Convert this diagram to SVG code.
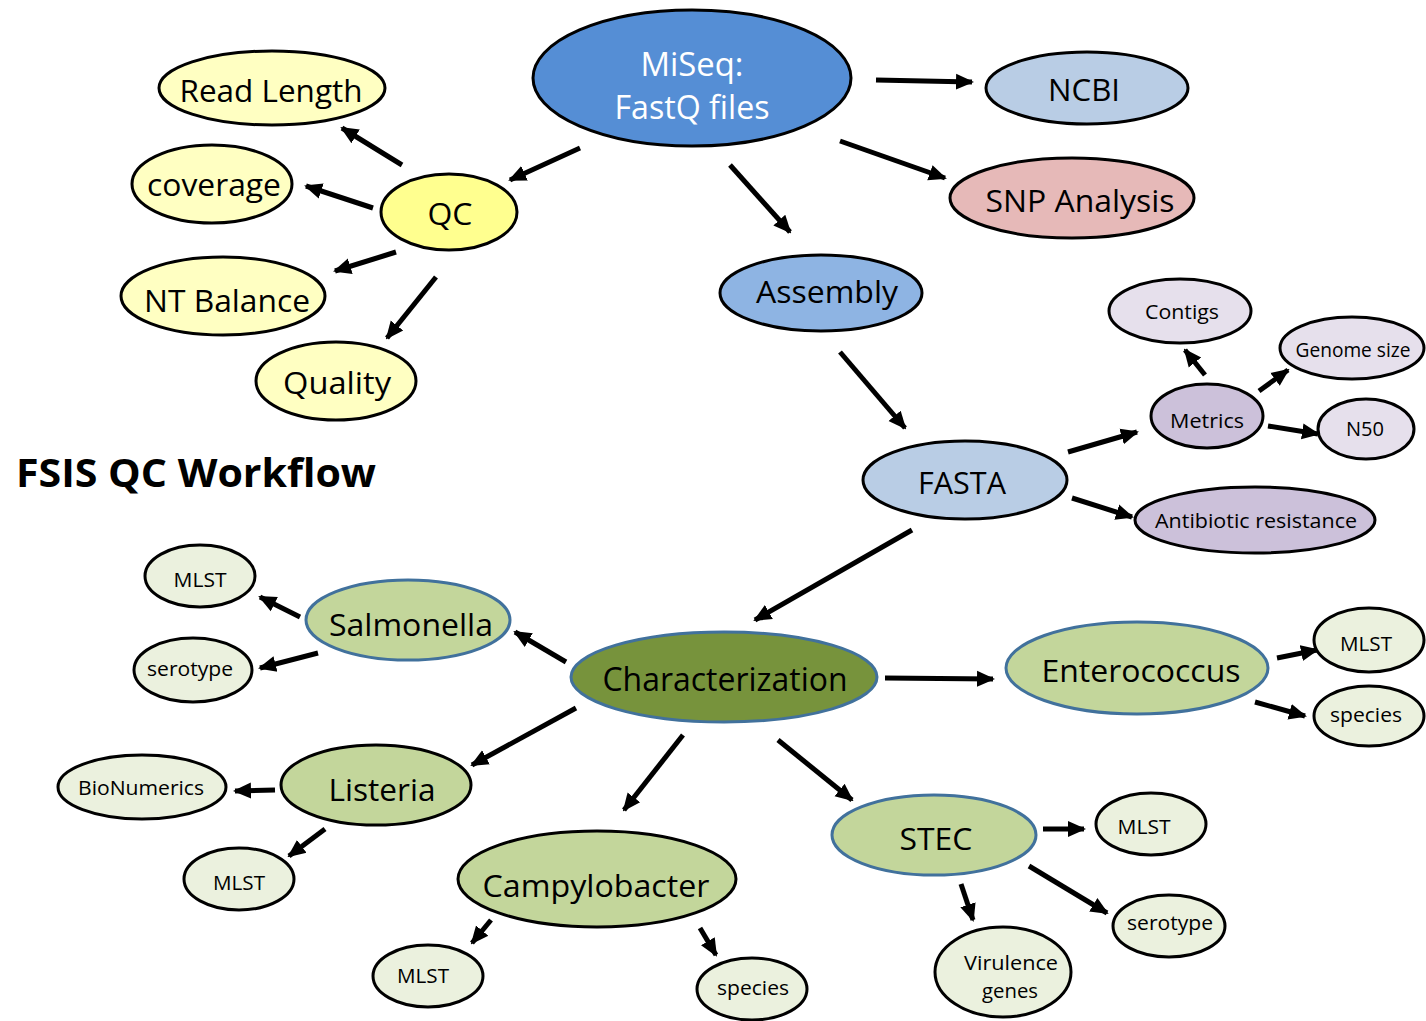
<svg xmlns="http://www.w3.org/2000/svg" width="1426" height="1021" viewBox="0 0 1426 1021">
<style>
.n{stroke:#000;stroke-width:3}
.b{stroke:#41719C;stroke-width:3}
text{font-family:"Open Sans","Noto Sans","DejaVu Sans",sans-serif;text-anchor:middle;fill:#000}
.L{font-size:31px}
.S{font-size:20px}
.w{fill:#fff}
.c line{stroke:#000;stroke-width:5;marker-end:url(#ah)}
</style>
<defs>
<marker id="ah" markerUnits="userSpaceOnUse" markerWidth="18" markerHeight="18" viewBox="0 0 18 18" refX="16" refY="9" orient="auto">
<path d="M0,1 L18,9 L0,17 z" fill="#000"/>
</marker>
</defs>
<rect width="1426" height="1021" fill="#fff"/>
<g class="c" id="connectors">
<line x1="876" y1="80" x2="972" y2="82"/>
<line x1="840" y1="141" x2="945" y2="178"/>
<line x1="580" y1="148" x2="510" y2="180"/>
<line x1="730" y1="165" x2="790" y2="232"/>
<line x1="402" y1="165" x2="342" y2="128"/>
<line x1="373" y1="208" x2="306" y2="186"/>
<line x1="396" y1="252" x2="335" y2="271"/>
<line x1="436" y1="277" x2="387" y2="338"/>
<line x1="840" y1="352" x2="905" y2="428"/>
<line x1="1068" y1="452" x2="1137" y2="432"/>
<line x1="1072" y1="498" x2="1132" y2="517"/>
<line x1="1205" y1="375" x2="1185" y2="350"/>
<line x1="1259" y1="391" x2="1288" y2="370"/>
<line x1="1268" y1="426" x2="1318" y2="434"/>
<line x1="912" y1="530" x2="755" y2="620"/>
<line x1="566" y1="662" x2="515" y2="632"/>
<line x1="300" y1="617" x2="260" y2="597"/>
<line x1="318" y1="653" x2="260" y2="668"/>
<line x1="885" y1="678" x2="993" y2="679"/>
<line x1="1277" y1="658" x2="1317" y2="650"/>
<line x1="1255" y1="702" x2="1305" y2="716"/>
<line x1="576" y1="708" x2="472" y2="765"/>
<line x1="275" y1="790" x2="235" y2="791"/>
<line x1="325" y1="829" x2="289" y2="856"/>
<line x1="683" y1="735" x2="624" y2="810"/>
<line x1="491" y1="920" x2="472" y2="943"/>
<line x1="700" y1="928" x2="716" y2="955"/>
<line x1="778" y1="740" x2="852" y2="800"/>
<line x1="1043" y1="829" x2="1084" y2="829"/>
<line x1="1029" y1="866" x2="1107" y2="913"/>
<line x1="961" y1="884" x2="973" y2="920"/>
</g>
<g id="miseq"><ellipse class="n" cx="692" cy="78" rx="159" ry="68" fill="#558ED5"/><text class="w" x="692" y="76" font-size="32" textLength="103" lengthAdjust="spacingAndGlyphs">MiSeq:</text><text class="w" x="692" y="119" font-size="32" textLength="155" lengthAdjust="spacingAndGlyphs">FastQ files</text></g>
<g id="ncbi"><ellipse class="n" cx="1087" cy="88" rx="101" ry="36" fill="#B9CDE5"/><text class="L" x="1084" y="101" textLength="72" lengthAdjust="spacingAndGlyphs">NCBI</text></g>
<g id="snp"><ellipse class="n" cx="1072" cy="198" rx="122" ry="40" fill="#E6B9B8"/><text class="L" x="1080" y="212" textLength="189" lengthAdjust="spacingAndGlyphs">SNP Analysis</text></g>
<g id="readlength"><ellipse class="n" cx="272" cy="88" rx="113" ry="37" fill="#FFFFC2"/><text class="L" x="271" y="102" textLength="183" lengthAdjust="spacingAndGlyphs">Read Length</text></g>
<g id="coverage"><ellipse class="n" cx="212" cy="184" rx="80" ry="39" fill="#FFFFC2"/><text class="L" x="214" y="196" textLength="134" lengthAdjust="spacingAndGlyphs">coverage</text></g>
<g id="qc"><ellipse class="n" cx="449" cy="212" rx="68" ry="38" fill="#FFFF8F"/><text class="L" x="450" y="225" textLength="45" lengthAdjust="spacingAndGlyphs">QC</text></g>
<g id="ntbalance"><ellipse class="n" cx="223" cy="296" rx="102" ry="39" fill="#FFFFC2"/><text class="L" x="227" y="312" textLength="166" lengthAdjust="spacingAndGlyphs">NT Balance</text></g>
<g id="quality"><ellipse class="n" cx="336" cy="381" rx="80" ry="39" fill="#FFFFC2"/><text class="L" x="337" y="394" textLength="108" lengthAdjust="spacingAndGlyphs">Quality</text></g>
<g id="assembly"><ellipse class="n" cx="821" cy="293" rx="101" ry="38" fill="#8EB4E3"/><text class="L" x="827" y="303" textLength="142" lengthAdjust="spacingAndGlyphs">Assembly</text></g>
<g id="fasta"><ellipse class="n" cx="965" cy="480" rx="102" ry="39" fill="#B9CDE5"/><text class="L" x="962" y="494" textLength="88" lengthAdjust="spacingAndGlyphs">FASTA</text></g>
<g id="contigs"><ellipse class="n" cx="1180" cy="311" rx="71" ry="32" fill="#E6E0EC"/><text class="S" x="1182" y="319" textLength="74" lengthAdjust="spacingAndGlyphs">Contigs</text></g>
<g id="genomesize"><ellipse class="n" cx="1352" cy="348" rx="72" ry="31" fill="#E6E0EC"/><text class="S" x="1353" y="357" textLength="115" lengthAdjust="spacingAndGlyphs">Genome size</text></g>
<g id="metrics"><ellipse class="n" cx="1207" cy="416" rx="56" ry="32" fill="#CCC1DA"/><text class="S" x="1207" y="428" textLength="74" lengthAdjust="spacingAndGlyphs">Metrics</text></g>
<g id="n50"><ellipse class="n" cx="1366" cy="429" rx="48" ry="30" fill="#E6E0EC"/><text class="S" x="1365" y="436" textLength="38" lengthAdjust="spacingAndGlyphs">N50</text></g>
<g id="antibiotic"><ellipse class="n" cx="1255" cy="520" rx="120" ry="33" fill="#CCC1DA"/><text class="S" x="1256" y="528" textLength="202" lengthAdjust="spacingAndGlyphs">Antibiotic resistance</text></g>
<g id="title"><text x="196" y="487" font-size="40" font-weight="bold" textLength="360" lengthAdjust="spacingAndGlyphs">FSIS QC Workflow</text></g>
<g id="characterization"><ellipse class="b" cx="724" cy="677" rx="153" ry="45" fill="#77933C"/><text x="725" y="691" font-size="32" textLength="245" lengthAdjust="spacingAndGlyphs">Characterization</text></g>
<g id="salmonella"><ellipse class="b" cx="408" cy="620" rx="102" ry="40" fill="#C3D69B"/><text class="L" x="411" y="636" textLength="164" lengthAdjust="spacingAndGlyphs">Salmonella</text></g>
<g id="sal-mlst"><ellipse class="n" cx="200" cy="576" rx="55" ry="31" fill="#EBF1DE"/><text class="S" x="200" y="587" textLength="53" lengthAdjust="spacingAndGlyphs">MLST</text></g>
<g id="sal-serotype"><ellipse class="n" cx="193" cy="670" rx="59" ry="32" fill="#EBF1DE"/><text class="S" x="190" y="676" textLength="86" lengthAdjust="spacingAndGlyphs">serotype</text></g>
<g id="enterococcus"><ellipse class="b" cx="1137" cy="668" rx="131" ry="46" fill="#C3D69B"/><text class="L" x="1141" y="682" textLength="199" lengthAdjust="spacingAndGlyphs">Enterococcus</text></g>
<g id="ent-mlst"><ellipse class="n" cx="1369" cy="640" rx="55" ry="32" fill="#EBF1DE"/><text class="S" x="1366" y="651" textLength="52" lengthAdjust="spacingAndGlyphs">MLST</text></g>
<g id="ent-species"><ellipse class="n" cx="1369" cy="716" rx="55" ry="30" fill="#EBF1DE"/><text class="S" x="1366" y="722" textLength="72" lengthAdjust="spacingAndGlyphs">species</text></g>
<g id="listeria"><ellipse class="n" cx="376" cy="785" rx="95" ry="40" fill="#C3D69B"/><text class="L" x="382" y="801" textLength="107" lengthAdjust="spacingAndGlyphs">Listeria</text></g>
<g id="bionumerics"><ellipse class="n" cx="142" cy="787" rx="84" ry="32" fill="#EBF1DE"/><text class="S" x="141" y="795" textLength="126" lengthAdjust="spacingAndGlyphs">BioNumerics</text></g>
<g id="lis-mlst"><ellipse class="n" cx="239" cy="879" rx="55" ry="31" fill="#EBF1DE"/><text class="S" x="239" y="890" textLength="52" lengthAdjust="spacingAndGlyphs">MLST</text></g>
<g id="campylobacter"><ellipse class="n" cx="597" cy="879" rx="139" ry="48" fill="#C3D69B"/><text class="L" x="596" y="897" textLength="227" lengthAdjust="spacingAndGlyphs">Campylobacter</text></g>
<g id="cam-mlst"><ellipse class="n" cx="428" cy="976" rx="55" ry="31" fill="#EBF1DE"/><text class="S" x="423" y="983" textLength="52" lengthAdjust="spacingAndGlyphs">MLST</text></g>
<g id="cam-species"><ellipse class="n" cx="752" cy="989" rx="55" ry="31" fill="#EBF1DE"/><text class="S" x="753" y="995" textLength="72" lengthAdjust="spacingAndGlyphs">species</text></g>
<g id="stec"><ellipse class="b" cx="934" cy="835" rx="102" ry="40" fill="#C3D69B"/><text class="L" x="936" y="850" textLength="73" lengthAdjust="spacingAndGlyphs">STEC</text></g>
<g id="stec-mlst"><ellipse class="n" cx="1151" cy="824" rx="55" ry="31" fill="#EBF1DE"/><text class="S" x="1144" y="834" textLength="53" lengthAdjust="spacingAndGlyphs">MLST</text></g>
<g id="stec-serotype"><ellipse class="n" cx="1169" cy="926" rx="56" ry="31" fill="#EBF1DE"/><text class="S" x="1170" y="930" textLength="86" lengthAdjust="spacingAndGlyphs">serotype</text></g>
<g id="virulence"><ellipse class="n" cx="1003" cy="972" rx="68" ry="45" fill="#EBF1DE"/><text class="S" x="1011" y="970" textLength="94" lengthAdjust="spacingAndGlyphs">Virulence</text><text class="S" x="1010" y="998" textLength="56" lengthAdjust="spacingAndGlyphs">genes</text></g>
</svg>
